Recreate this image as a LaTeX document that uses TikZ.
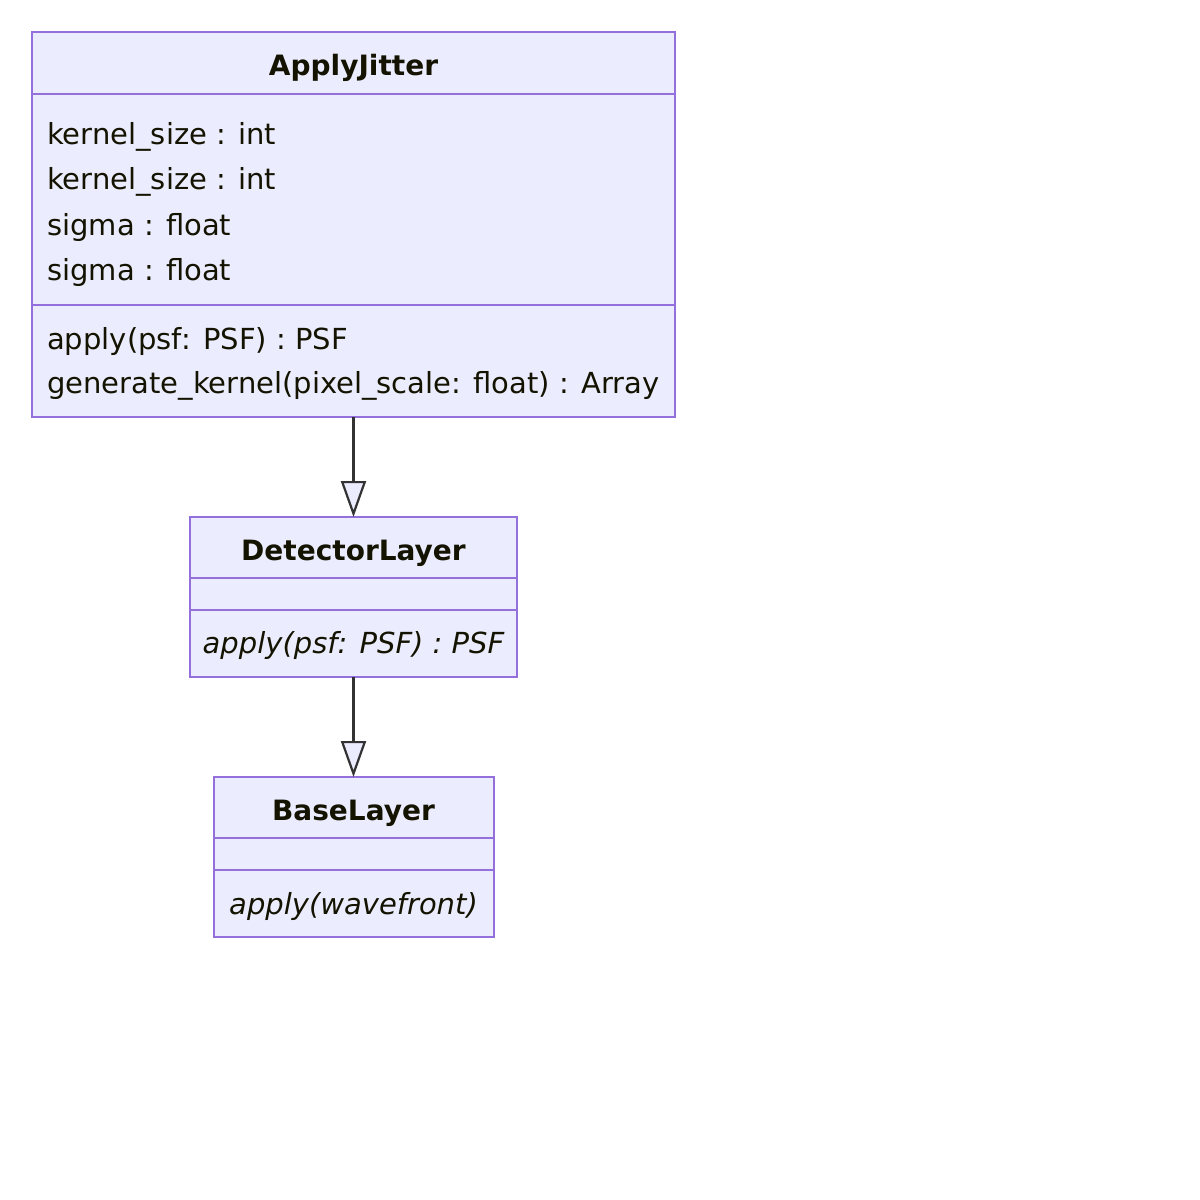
\documentclass[tikz,border=0pt]{standalone}
\usepackage{fontspec}
\setmainfont{DejaVu Sans}
\usetikzlibrary{arrows.meta}

\definecolor{classfill}{HTML}{ECECFF}
\definecolor{classline}{HTML}{9370DB}
\definecolor{classtext}{HTML}{131300}
\definecolor{linkline}{HTML}{333333}

\tikzset{
  classbox/.style={draw=classline, fill=classfill, line width=2pt, inner sep=0pt, outer sep=0pt},
  divider/.style={draw=classline, line width=2pt},
  classtitle/.style={text=classtext, font=\fontsize{28}{32}\selectfont\bfseries},
  member/.style={text=classtext, font=\fontsize{29}{32}\selectfont, anchor=west, inner sep=0pt},
  virtual/.style={text=classtext, font=\fontsize{29}{32}\selectfont\itshape, inner sep=0pt},
  inherit/.style={draw=linkline, line width=2.2pt,
    -{Triangle[open, fill=classfill, length=36pt, width=25pt, line width=2.2pt]}}
}

\begin{document}
\begin{tikzpicture}[x=1pt, y=-1pt]
    \useasboundingbox[fill=white] (0, 0) rectangle (1200, 1200);

    % ApplyJitter
    \node[classbox, minimum width=643pt, minimum height=385pt] (jitter) at (353.5, 224.5) {};
    \draw[divider] (32, 94) -- (675, 94);
    \draw[divider] (32, 305) -- (675, 305);
    \node[classtitle] (jittername) at (353.5, 68) {ApplyJitter};
    \node[member] (jitterA) at (47, 137) {kernel\_size : int};
    \node[member] (jitterB) at (47, 182) {kernel\_size : int};
    \node[member] (jitterC) at (47, 227) {sigma : float};
    \node[member] (jitterD) at (47, 272) {sigma : float};
    \node[member] (jitterE) at (47, 341) {apply(psf: PSF) : PSF};
    \node[member] (jitterF) at (47, 386) {generate\_kernel(pixel\_scale: float) : Array};

    % DetectorLayer
    \node[classbox, minimum width=327pt, minimum height=160pt] (detector) at (353.5, 597) {};
    \draw[divider] (190, 578) -- (517, 578);
    \draw[divider] (190, 610) -- (517, 610);
    \node[classtitle] (detectorname) at (353.5, 553) {DetectorLayer};
    \node[virtual] (detectorA) at (353.5, 645) {apply(psf: PSF) : PSF};

    % BaseLayer
    \node[classbox, minimum width=280pt, minimum height=160pt] (base) at (353.5, 857) {};
    \draw[divider] (213, 838) -- (493, 838);
    \draw[divider] (213, 870) -- (493, 870);
    \node[classtitle] (basename) at (353.5, 813) {BaseLayer};
    \node[virtual] (baseA) at (353.5, 906) {apply(wavefront)};

    % inheritance
    \draw[inherit] (jitter.south) -- (detector.north);
    \draw[inherit] (detector.south) -- (base.north);
\end{tikzpicture}
\end{document}
